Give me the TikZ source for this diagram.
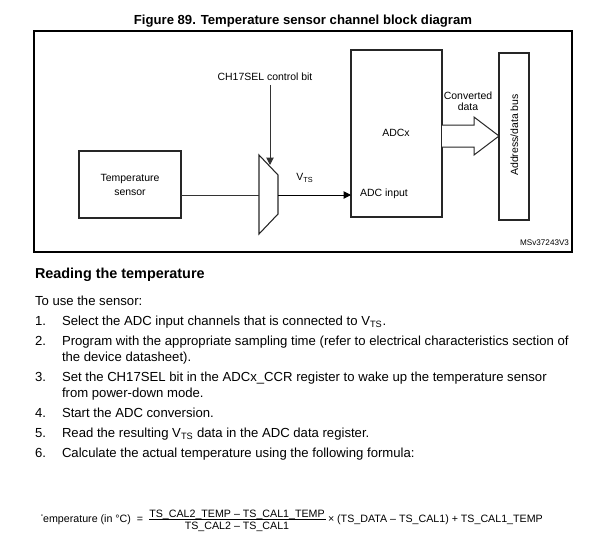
\documentclass[tikz,border=0pt]{standalone}
\usepackage{fontspec}
\setmainfont{Liberation Sans}
\usetikzlibrary{arrows.meta}
\begin{document}
\begin{tikzpicture}[x=0.75pt,y=-0.75pt,
  every node/.style={inner sep=0pt,outer sep=0pt},
  dtext/.style={font=\fontsize{7.85}{10.5}\selectfont,align=center},
  ctext/.style={font=\fontsize{7.85}{8.4}\selectfont,align=center},
  body/.style={font=\fontsize{9.85}{11}\selectfont,anchor=base west},
  ftext/.style={font=\fontsize{8}{9}\selectfont,anchor=base west},
  boxline/.style={draw=black!85,line width=0.8pt},
  wire/.style={draw=black!80,line width=0.75pt},
  tip/.style={-{Triangle[length=5.5pt,width=5.5pt]}}
]
\useasboundingbox (0,0) rectangle (600,558);
% title and frame
\node[font=\fontsize{9.85}{11}\selectfont\bfseries,anchor=base] (title) at (303,24) {Figure 89. Temperature sensor channel block diagram};
\draw[line width=1pt] (34,31) rectangle (572,252);
% temperature sensor
\node[boxline,dtext,minimum width=76.5pt,minimum height=50.25pt] (ts) at (130,184.5) {Temperature\\sensor};
% mux
\draw[boxline] (259,155) -- (278,175) -- (278,214) -- (259,234) -- cycle;
\coordinate (muxin) at (259,195);
\coordinate (muxout) at (278,195);
\coordinate (muxctl) at (270,165);
% control bit
\node[dtext] (ctl) at (265,77) {CH17SEL control bit};
\draw[wire,tip] ([yshift=-3pt]ctl.south -| muxctl) -- (muxctl);
% ADC
\node[boxline,minimum width=68.25pt,minimum height=125.25pt] (adc) at (396.5,133.5) {};
\node[dtext] (adcx) at (396,133) {ADCx};
\node[dtext] (adcin) at (384,194) {ADC input};
\draw[wire] (ts.east |- muxin) -- (muxin);
\draw[draw=black,line width=0.75pt,tip] (muxout) -- (adc.west |- muxout);
\node[dtext] (vts) at (305,178) {V\textsubscript{TS}};
% bus
\node[boxline,minimum width=22.5pt,minimum height=125.25pt] (bus) at (514,136.5) {};
\node[dtext,rotate=90] (buslbl) at (514.5,135) {Address/data bus};
% big arrow
\draw[boxline,line width=0.75pt,fill=white,line join=miter]
  (adc.east |- 0,125) -- (474,125) -- (474,117) -- (bus.west |- 0,136) -- (474,155) -- (474,147) -- (adc.east |- 0,147);
\node[ctext] (conv) at (468,101) {Converted\\data};
\node[font=\fontsize{6.1}{7}\selectfont,anchor=east] (ms) at (569,243) {MSv37243V3};
% text
\node[font=\fontsize{10.8}{12}\selectfont\bfseries,anchor=base west] (head) at (35,278) {Reading the temperature};
\node[body] (intro) at (35,305) {To use the sensor:};
\node[body] (n1) at (35,325) {1.};
\node[body] (t1) at (62,325) {Select the ADC input channels that is connected to V\textsubscript{TS}.};
\node[body] (n2) at (35,345) {2.};
\node[body] (t2) at (62,345) {Program with the appropriate sampling time (refer to electrical characteristics section of};
\node[body] (t2b) at (62,361) {the device datasheet).};
\node[body] (n3) at (35,381) {3.};
\node[body] (t3) at (62,381) {Set the CH17SEL bit in the ADCx\_CCR register to wake up the temperature sensor};
\node[body] (t3b) at (62,397) {from power-down mode.};
\node[body] (n4) at (35,417) {4.};
\node[body] (t4) at (62,417) {Start the ADC conversion.};
\node[body] (n5) at (35,437) {5.};
\node[body] (t5) at (62,437) {Read the resulting V\textsubscript{TS} data in the ADC data register.};
\node[body] (n6) at (35,457) {6.};
\node[body] (t6) at (62,457) {Calculate the actual temperature using the following formula:};
% formula
\node[ftext,anchor=base east] (fl) at (131,522.5) {emperature (in °C)};
\begin{scope}
\clip ([xshift=-1.6pt]fl.west |- 0,495) rectangle (fl.west |- 0,545);
\node[ftext,anchor=base east] (ft) at (fl.base west) {T};
\end{scope}
\node[ftext,anchor=base] (feq) at (140,522.5) {=};
\node[ftext,anchor=base] (fnum) at (237,517) {TS\_CAL2\_TEMP – TS\_CAL1\_TEMP};
\node[ftext,anchor=base] (fden) at (237,529.5) {TS\_CAL2 – TS\_CAL1};
\draw[line width=0.6pt] (149,519.5) -- (326,519.5);
\node[ftext] (frest) at (328,522.5) {× (TS\_DATA – TS\_CAL1) + TS\_CAL1\_TEMP};
\end{tikzpicture}
\end{document}
